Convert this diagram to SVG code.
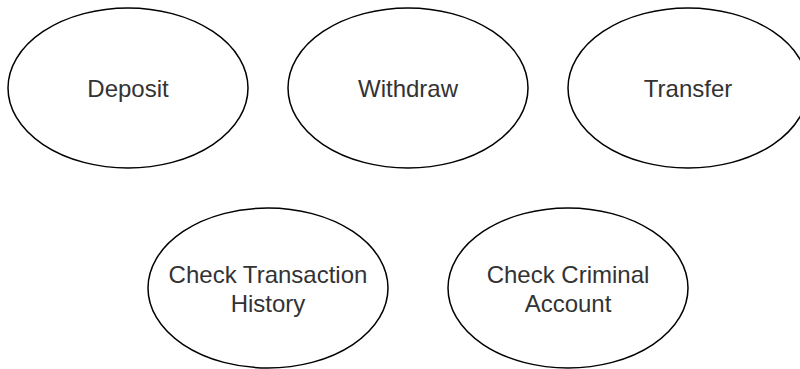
<svg xmlns="http://www.w3.org/2000/svg" width="800" height="369" viewBox="0 0 800 369">
<style>
.node ellipse{fill:#fff;stroke:#000;stroke-width:1.5}
.node text{font-family:"Liberation Sans",Arial,sans-serif;font-size:24px;fill:#333;text-anchor:middle}
</style>
<rect width="800" height="369" fill="#fff"/>
<g id="connectors"></g>
<g id="deposit" class="node"><ellipse cx="128" cy="88" rx="120" ry="80"/><text x="128" y="97">Deposit</text></g>
<g id="withdraw" class="node"><ellipse cx="408" cy="88" rx="120" ry="80"/><text x="408" y="97">Withdraw</text></g>
<g id="transfer" class="node"><ellipse cx="688" cy="88" rx="120" ry="80"/><text x="688" y="97">Transfer</text></g>
<g id="history" class="node"><ellipse cx="268" cy="288" rx="120" ry="80"/><text x="268" y="283">Check Transaction</text><text x="268" y="312">History</text></g>
<g id="criminal" class="node"><ellipse cx="568" cy="288" rx="120" ry="80"/><text x="568" y="283">Check Criminal</text><text x="568" y="312">Account</text></g>
</svg>
